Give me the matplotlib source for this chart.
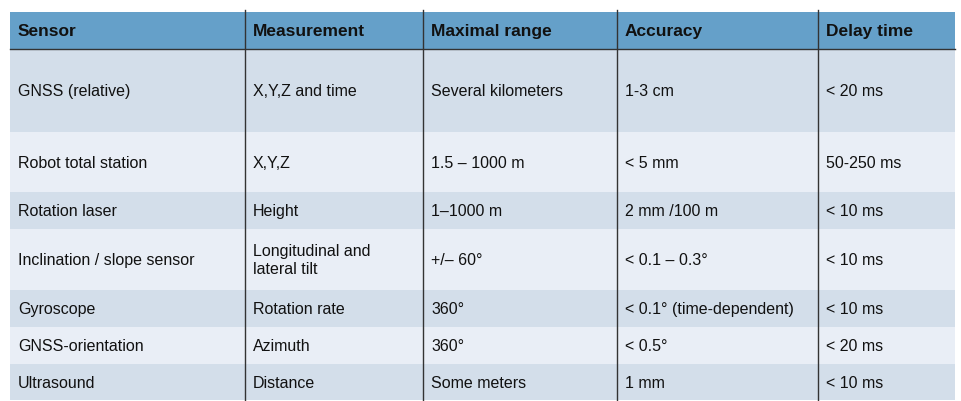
import matplotlib
matplotlib.use("Agg")
import matplotlib.pyplot as plt
from matplotlib.patches import Rectangle

headers = ["Sensor", "Measurement", "Maximal range", "Accuracy", "Delay time"]
sensor = ["GNSS (relative)", "Robot total station", "Rotation laser", "Inclination / slope sensor",
          "Gyroscope", "GNSS-orientation", "Ultrasound"]
measurement = ["X,Y,Z and time", "X,Y,Z", "Height", "Longitudinal and\nlateral tilt",
               "Rotation rate", "Azimuth", "Distance"]
max_range = ["Several kilometers", "1.5 \u2013 1000 m", "1\u20131000 m", "+/\u2013 60\u00b0",
             "360\u00b0", "360\u00b0", "Some meters"]
accuracy = ["1-3 cm", "< 5 mm", "2 mm /100 m", "< 0.1 \u2013 0.3\u00b0",
            "< 0.1\u00b0 (time-dependent)", "< 0.5\u00b0", "1 mm"]
delay = ["< 20 ms", "50-250 ms", "< 10 ms", "< 10 ms", "< 10 ms", "< 20 ms", "< 10 ms"]

cols = [10, 245, 423, 617, 818, 955]
rows = [12, 49, 132, 192, 229, 290, 327, 364, 400]

W, H = 962, 401
fig = plt.figure(figsize=(W/100, H/100), dpi=100)
ax = fig.add_axes([0, 0, 1, 1])
ax.set_xlim(0, W); ax.set_ylim(H, 0); ax.axis("off")

ax.add_patch(Rectangle((cols[0], rows[0]), cols[-1]-cols[0], rows[1]-rows[0], color="#65A0C9", lw=0))
data = list(zip(sensor, measurement, max_range, accuracy, delay))
for i, r in enumerate(data):
    y0, y1 = rows[i+1], rows[i+2]
    c = "#D3DEEA" if i % 2 == 0 else "#E9EEF6"
    ax.add_patch(Rectangle((cols[0], y0), cols[-1]-cols[0], y1-y0, color=c, lw=0))
    for j, t in enumerate(r):
        ax.text(cols[j]+8, (y0+y1)/2 + 1, t, va="center", ha="left", fontsize=11.5,
                family="Liberation Sans", color="#111111", linespacing=1.25)
for j, t in enumerate(headers):
    ax.text(cols[j]+8, (rows[0]+rows[1])/2+1, t, va="center", ha="left", fontsize=12.5,
            family="Liberation Sans", weight="bold", color="#111111")
for x in cols[1:-1]:
    ax.plot([x, x], [10, rows[-1]], color="#333333", lw=1)
ax.plot([cols[0], cols[-1]], [rows[1], rows[1]], color="#333333", lw=1)
fig.savefig("out.png", dpi=100)
